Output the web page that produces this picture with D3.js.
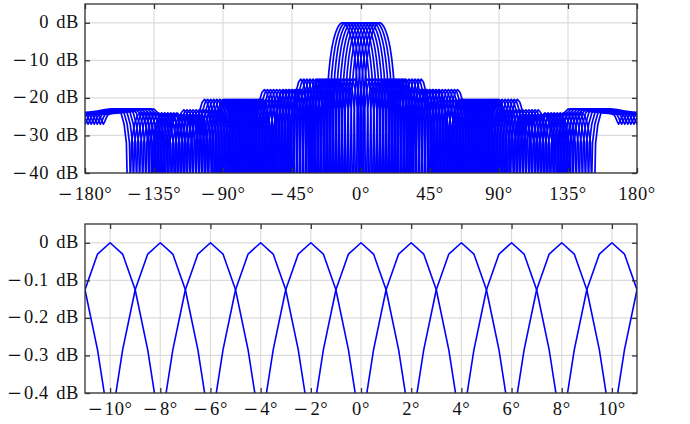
<!DOCTYPE html>
<html><head><meta charset="utf-8">
<script src="https://cdn.jsdelivr.net/npm/d3@7"></script>
<style>
body{margin:0;background:#fff}
</style>
</head><body><svg id="c" width="690" height="424" font-family="'Liberation Serif', serif" font-size="18"></svg>
<script>
// Steering angles of the beams (degrees)
const beamAngles = [-12,-10,-8,-6,-4,-2,0,2,4,6,8,10,12];
// Single-beam pattern: offset from beam direction (deg) and level (dB); mirrored for negative offsets
const patternOffsets = [0,0.5,1,1.5,2,2.5,3,3.5,4,4.5,5,6,7,8,9,10,10.5,11.1,
  12.35,13.7,15.0,16.3,17.6,18.9,20.25,21.5,
  22.9,24.4,25.8,27.25,28.7,30.1,31.6,33,
  34.3,35.8,37.2,38.7,40.2,41.6,43.1,44.5,
  46.1,47.75,49.4,51,52.6,54.25,55.9,57.5,
  59.1,60.75,62.4,64,65.6,67.25,68.9,70.5,
  72.1,73.75,75.4,77,78.6,80.25,81.9,83.5,
  85.1,86.75,88.4,90,91.6,93.25,94.9,96.5,
  98.2,100,101.75,103.5,105.25,107,108.8,110.5,
  112.2,114,115.75,117.5,119.25,121,122.8,124.5,
  126.3,128.25,130.1,132,133.9,135.75,137.7,139.5,
  141,142.5,144.5,147,150,155,160,165,170,175,177,178,179,180];
const patternDb = [0,-0.03,-0.125,-0.285,-0.5,-0.79,-1.13,-1.55,-2.05,-2.6,-3.2,-4.7,-6.7,-9.4,-13.2,-19.3,-25,-60,
  -23,-18,-15.75,-15,-15.75,-18,-23,-60,
  -23,-18,-15.75,-15,-15.75,-18,-23,-60,
  -25.8,-20.8,-18.55,-17.8,-18.55,-20.8,-25.8,-60,
  -25.8,-20.8,-18.55,-17.8,-18.55,-20.8,-25.8,-60,
  -28.4,-23.4,-21.15,-20.4,-21.15,-23.4,-28.4,-60,
  -28.4,-23.4,-21.15,-20.4,-21.15,-23.4,-28.4,-60,
  -28.4,-23.4,-21.15,-20.4,-21.15,-23.4,-28.4,-60,
  -31.2,-26.2,-23.95,-23.2,-23.95,-26.2,-31.2,-60,
  -32.3,-27.3,-25.05,-24.3,-25.05,-27.3,-32.3,-60,
  -32,-27,-24.75,-24,-24.75,-27,-32,-60,
  -32,-27,-24,-23,-22.9,-23.1,-23.5,-23.8,-24,-24.2,-24.5,-25.2,-26.2,-27];

const topXTicks = [-180,-135,-90,-45,0,45,90,135,180];
const topYTicks = [0,-10,-20,-30,-40];
const botXTicks = [-10,-8,-6,-4,-2,0,2,4,6,8,10];
const botYTicks = [0,-0.1,-0.2,-0.3,-0.4];

const svg = d3.select("#c");
const frameColor = "#333", gridColor = "#dcdcdc", lineColor = "#0000ff";
const serif = "'Liberation Serif', 'Times New Roman', serif";

// full symmetric single-beam pattern
const basePattern = [];
for (let i = patternOffsets.length - 1; i > 0; i--) basePattern.push([-patternOffsets[i], patternDb[i]]);
for (let i = 0; i < patternOffsets.length; i++) basePattern.push([patternOffsets[i], patternDb[i]]);

function beamPoints(b) {
  const pts = [];
  basePattern.forEach(([o, v]) => {
    [-360, 0, 360].forEach(k => {
      const t = b + o + k;
      if (t >= -200 && t <= 200) pts.push([t, v]);
    });
  });
  pts.sort((a, c) => a[0] - c[0]);
  return pts;
}

function panel(opts) {
  const { id, x0, x1, y0, y1, xDom, yDom, xTicks, yTicks, xFmt, yFmt, lw, labelY } = opts;
  const x = d3.scaleLinear().domain(xDom).range([x0, x1]);
  const y = d3.scaleLinear().domain(yDom).range([y1, y0]);
  const g = svg.append("g");
  g.append("clipPath").attr("id", id).append("rect")
    .attr("x", x0).attr("y", y0).attr("width", x1 - x0).attr("height", y1 - y0);
  // grid
  g.append("g").selectAll("line").data(xTicks).join("line")
    .attr("x1", d => x(d)).attr("x2", d => x(d)).attr("y1", y0).attr("y2", y1)
    .attr("stroke", gridColor).attr("stroke-width", 1.2);
  g.append("g").selectAll("line").data(yTicks).join("line")
    .attr("y1", d => y(d)).attr("y2", d => y(d)).attr("x1", x0).attr("x2", x1)
    .attr("stroke", gridColor).attr("stroke-width", 1.2);
  // beams
  const line = d3.line().x(d => x(d[0])).y(d => y(d[1]));
  g.append("g").attr("clip-path", `url(#${id})`).selectAll("path").data(beamAngles).join("path")
    .attr("d", b => line(beamPoints(b)))
    .attr("fill", "none").attr("stroke", lineColor).attr("stroke-width", lw).attr("stroke-linejoin", "round");
  // axes frame with inward ticks
  const axB = d3.axisBottom(x).tickValues(xTicks).tickSize(-5).tickFormat("");
  const axT = d3.axisTop(x).tickValues(xTicks).tickSize(-5).tickFormat("");
  const axL = d3.axisLeft(y).tickValues(yTicks).tickSize(-5).tickFormat("");
  const axR = d3.axisRight(y).tickValues(yTicks).tickSize(-5).tickFormat("");
  [[axB, `translate(0,${y1})`], [axT, `translate(0,${y0})`], [axL, `translate(${x0},0)`], [axR, `translate(${x1},0)`]]
    .forEach(([ax, tr]) => {
      const a = g.append("g").attr("transform", tr).call(ax);
      a.select(".domain").remove();
      a.selectAll("line").attr("stroke", frameColor).attr("stroke-width", 1.3);
    });
  g.append("rect").attr("x", x0).attr("y", y0).attr("width", x1 - x0).attr("height", y1 - y0)
    .attr("fill", "none").attr("stroke", frameColor).attr("stroke-width", 1.3);
  // labels
  function addLabel(sel, d, fmt) {
    if (d < 0) sel.append("tspan").attr("font-family", "'DejaVu Serif', serif").attr("font-size", 18).attr("letter-spacing", 2).text("\u2212");
    sel.append("tspan").attr("font-family", serif).text(fmt(Math.abs(d)));
  }
  g.append("g").selectAll("text").data(xTicks).join("text")
    .attr("x", d => x(d)).attr("y", labelY).attr("text-anchor", "middle")
    .attr("font-family", serif).attr("font-size", 18.5).attr("fill", "#111")
    .attr("letter-spacing", 0.6)
    .each(function(d) { addLabel(d3.select(this), d, xFmt); });
  g.append("g").selectAll("text").data(yTicks).join("text")
    .attr("x", x0 - 6).attr("y", d => y(d)).attr("dy", "0.3em").attr("text-anchor", "end")
    .attr("font-family", serif).attr("font-size", 18.5).attr("fill", "#111")
    .attr("letter-spacing", 0.6).attr("word-spacing", 2)
    .each(function(d) { addLabel(d3.select(this), d, yFmt); });
}

panel({ id: "clipTop", x0: 85, x1: 637, y0: 4, y1: 173, xDom: [-180, 180], yDom: [-40, 5],
  xTicks: topXTicks, yTicks: topYTicks, xFmt: v => v + "°", yFmt: v => v + " dB", lw: 1.7, labelY: 200 });
panel({ id: "clipBot", x0: 85, x1: 637, y0: 224, y1: 393, xDom: [-11, 11], yDom: [-0.4, 0.05],
  xTicks: botXTicks, yTicks: botYTicks, xFmt: v => v + "°", yFmt: v => v + " dB", lw: 1.6, labelY: 415 });
</script>
</body></html>
